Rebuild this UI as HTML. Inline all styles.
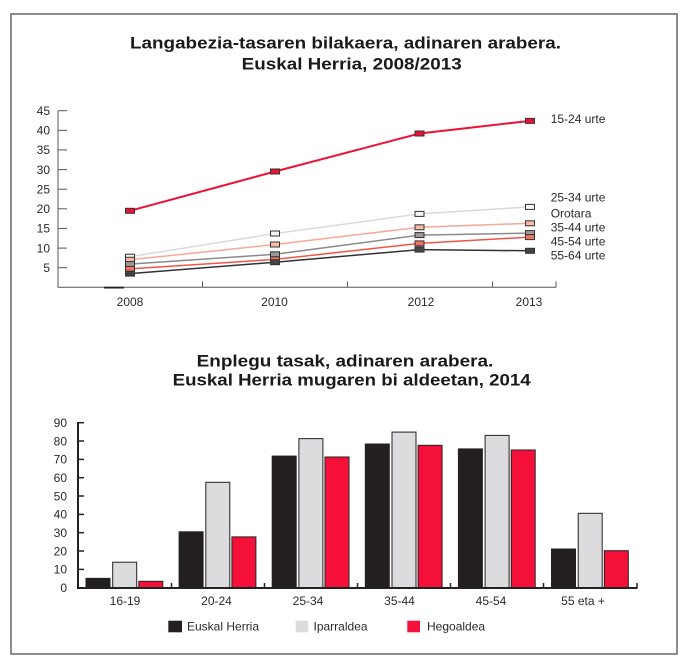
<!DOCTYPE html>
<html><head><meta charset="utf-8"><style>
html,body{margin:0;padding:0;background:#fff;}
svg{display:block;}
text{font-family:"Liberation Sans",Arial,sans-serif;}
</style></head><body>
<svg width="685" height="663" viewBox="0 0 685 663" xmlns="http://www.w3.org/2000/svg">
<rect x="0" y="0" width="685" height="663" fill="#fff"/>
<rect x="11" y="14" width="666" height="640" fill="none" stroke="#707070" stroke-width="1.6"/>

<!-- Title 1 -->
<g fill="#1a1a1a" font-weight="bold" font-size="17">
<text x="130" y="48.3" textLength="431" lengthAdjust="spacingAndGlyphs">Langabezia-tasaren bilakaera, adinaren arabera.</text>
<text x="241.7" y="69.3" textLength="220" lengthAdjust="spacingAndGlyphs">Euskal Herria, 2008/2013</text>
</g>

<!-- Line chart axes -->
<g stroke="#555" stroke-width="1" fill="none">
<line x1="58" y1="110.7" x2="58" y2="287.3"/>
<line x1="58" y1="287.3" x2="556" y2="287.3"/>
<line x1="58" y1="110.7" x2="67" y2="110.7"/>
<line x1="58" y1="130.3" x2="67" y2="130.3"/>
<line x1="58" y1="149.9" x2="67" y2="149.9"/>
<line x1="58" y1="169.6" x2="67" y2="169.6"/>
<line x1="58" y1="189.2" x2="67" y2="189.2"/>
<line x1="58" y1="208.8" x2="67" y2="208.8"/>
<line x1="58" y1="228.4" x2="67" y2="228.4"/>
<line x1="58" y1="248.1" x2="67" y2="248.1"/>
<line x1="58" y1="267.7" x2="67" y2="267.7"/>
<line x1="202.5" y1="281.5" x2="202.5" y2="287.3"/>
<line x1="347.5" y1="281.5" x2="347.5" y2="287.3"/>
<line x1="492.5" y1="281.5" x2="492.5" y2="287.3"/>
<line x1="556" y1="281.5" x2="556" y2="287.3"/>
</g>
<line x1="104" y1="287.6" x2="124" y2="287.6" stroke="#222" stroke-width="1.8"/>

<g fill="#2a2a2a" font-size="12" text-anchor="end">
<text x="50" y="115">45</text>
<text x="50" y="134.6">40</text>
<text x="50" y="154.2">35</text>
<text x="50" y="173.9">30</text>
<text x="50" y="193.5">25</text>
<text x="50" y="213.1">20</text>
<text x="50" y="232.7">15</text>
<text x="50" y="252.4">10</text>
<text x="50" y="272">5</text>
</g>
<g fill="#2a2a2a" font-size="12" text-anchor="middle">
<text x="130" y="306">2008</text>
<text x="274.5" y="306">2010</text>
<text x="421" y="306">2012</text>
<text x="529" y="306">2013</text>
</g>

<!-- Lines -->
<g fill="none" stroke-width="1.5">
<polyline stroke="#dadada" points="130,256.7 275,233.5 419.5,213.9 530,206.9"/>
<polyline stroke="#f7a898" points="130,259.8 275,244.5 419.5,227.3 530,223.3"/>
<polyline stroke="#8a8a8a" points="130,264.1 275,254.3 419.5,235.1 530,233.1"/>
<polyline stroke="#f05548" points="130,268.9 275,259.4 419.5,243.4 530,237.1"/>
<polyline stroke="#333" points="130,273.6 275,262.2 419.5,249.6 530,250.8"/>
<polyline stroke="#ee1133" stroke-width="2" points="130,210.8 275,171.5 419.5,133.5 530,120.9"/>
</g>
<!-- Markers -->
<g stroke="#333" stroke-width="1">
<g fill="#f5f5f5">
<rect x="125.5" y="254.2" width="9" height="5"/><rect x="270.5" y="231" width="9" height="5"/><rect x="415" y="211.4" width="9" height="5"/><rect x="525.5" y="204.4" width="9" height="5"/>
</g>
<g fill="#f9b9a9">
<rect x="125.5" y="257.3" width="9" height="5"/><rect x="270.5" y="242" width="9" height="5"/><rect x="415" y="224.8" width="9" height="5"/><rect x="525.5" y="220.8" width="9" height="5"/>
</g>
<g fill="#9a9a9a">
<rect x="125.5" y="261.6" width="9" height="5"/><rect x="270.5" y="251.8" width="9" height="5"/><rect x="415" y="232.6" width="9" height="5"/><rect x="525.5" y="230.6" width="9" height="5"/>
</g>
<g fill="#f27460">
<rect x="125.5" y="266.4" width="9" height="5"/><rect x="270.5" y="256.9" width="9" height="5"/><rect x="415" y="240.9" width="9" height="5"/><rect x="525.5" y="234.6" width="9" height="5"/>
</g>
<g fill="#444">
<rect x="125.5" y="271.1" width="9" height="5"/><rect x="270.5" y="259.7" width="9" height="5"/><rect x="415" y="247.1" width="9" height="5"/><rect x="525.5" y="248.3" width="9" height="5"/>
</g>
<g fill="#ee1133">
<rect x="125.5" y="208.3" width="9" height="5"/><rect x="270.5" y="169" width="9" height="5"/><rect x="415" y="131" width="9" height="5"/><rect x="525.5" y="118.4" width="9" height="5"/>
</g>
</g>
<g fill="#2a2a2a" font-size="12">
<text x="550.7" y="123">15-24 urte</text>
<text x="550.7" y="201.7">25-34 urte</text>
<text x="550.7" y="217.7">Orotara</text>
<text x="550.7" y="231.7">35-44 urte</text>
<text x="550.7" y="245.7">45-54 urte</text>
<text x="550.7" y="259.7">55-64 urte</text>
</g>

<!-- Title 2 -->
<g fill="#1a1a1a" font-weight="bold" font-size="17">
<text x="196.7" y="366.3" textLength="296.6" lengthAdjust="spacingAndGlyphs">Enplegu tasak, adinaren arabera.</text>
<text x="172.7" y="385.7" textLength="358" lengthAdjust="spacingAndGlyphs">Euskal Herria mugaren bi aldeetan, 2014</text>
</g>

<!-- Bar chart axes -->
<g stroke="#222" stroke-width="1.5">
<line x1="78" y1="422.7" x2="84" y2="422.7"/>
<line x1="78" y1="441.0" x2="84" y2="441.0"/>
<line x1="78" y1="459.4" x2="84" y2="459.4"/>
<line x1="78" y1="477.7" x2="84" y2="477.7"/>
<line x1="78" y1="496.0" x2="84" y2="496.0"/>
<line x1="78" y1="514.4" x2="84" y2="514.4"/>
<line x1="78" y1="532.7" x2="84" y2="532.7"/>
<line x1="78" y1="551.0" x2="84" y2="551.0"/>
<line x1="78" y1="569.4" x2="84" y2="569.4"/>
<line x1="171.5" y1="583" x2="171.5" y2="588"/>
<line x1="264.5" y1="583" x2="264.5" y2="588"/>
<line x1="357.5" y1="583" x2="357.5" y2="588"/>
<line x1="450.5" y1="583" x2="450.5" y2="588"/>
<line x1="543.5" y1="583" x2="543.5" y2="588"/>
<line x1="637" y1="583" x2="637" y2="588"/>
</g>
<g fill="#2a2a2a" font-size="12" text-anchor="end">
<text x="67" y="427">90</text>
<text x="67" y="445.3">80</text>
<text x="67" y="463.7">70</text>
<text x="67" y="482">60</text>
<text x="67" y="500.3">50</text>
<text x="67" y="518.7">40</text>
<text x="67" y="537">30</text>
<text x="67" y="555.3">20</text>
<text x="67" y="573.7">10</text>
<text x="67" y="592">0</text>
</g>

<!-- Bars -->
<g stroke="#222" stroke-width="1">
<g fill="#231f20">
<rect x="86" y="578.35" width="24" height="9.35"/>
<rect x="179.1" y="531.8" width="24" height="55.9"/>
<rect x="272.2" y="456.1" width="24" height="131.6"/>
<rect x="365.3" y="444.0" width="24" height="143.7"/>
<rect x="458.4" y="448.9" width="24" height="138.8"/>
<rect x="551.5" y="549.0" width="24" height="38.7"/>
</g>
<g fill="#dcdcdf">
<rect x="112.7" y="562.2" width="24" height="25.5"/>
<rect x="205.8" y="482.3" width="24" height="105.4"/>
<rect x="298.9" y="438.65" width="24" height="149.05"/>
<rect x="392" y="432.1" width="24" height="155.6"/>
<rect x="485.1" y="435.4" width="24" height="152.3"/>
<rect x="578.2" y="513.3" width="24" height="74.4"/>
</g>
<g fill="#f5103a">
<rect x="138.8" y="581.3" width="24" height="6.4"/>
<rect x="231.9" y="536.9" width="24" height="50.8"/>
<rect x="325" y="457.0" width="24" height="130.7"/>
<rect x="418.1" y="445.3" width="24" height="142.4"/>
<rect x="511.2" y="450.0" width="24" height="137.7"/>
<rect x="604.3" y="550.7" width="24" height="37"/>
</g>
</g>
<line x1="78" y1="422" x2="78" y2="589" stroke="#222" stroke-width="2"/>
<line x1="77" y1="588" x2="637.5" y2="588" stroke="#222" stroke-width="2"/>

<g fill="#2a2a2a" font-size="12" text-anchor="middle">
<text x="125" y="605">16-19</text>
<text x="216.5" y="605">20-24</text>
<text x="308" y="605">25-34</text>
<text x="399.5" y="605">35-44</text>
<text x="491" y="605">45-54</text>
<text x="583" y="605">55 eta +</text>
</g>

<!-- Legend -->
<rect x="168.3" y="620.7" width="13.7" height="11.6" fill="#231f20"/>
<rect x="295.7" y="620.7" width="12.6" height="11.6" fill="#dcdcdf"/>
<rect x="407.3" y="620.7" width="12.7" height="11.6" fill="#f5103a"/>
<g fill="#2a2a2a" font-size="12">
<text x="187" y="630.5">Euskal Herria</text>
<text x="313.5" y="630.5">Iparraldea</text>
<text x="427" y="630.5">Hegoaldea</text>
</g>
</svg>
</body></html>
